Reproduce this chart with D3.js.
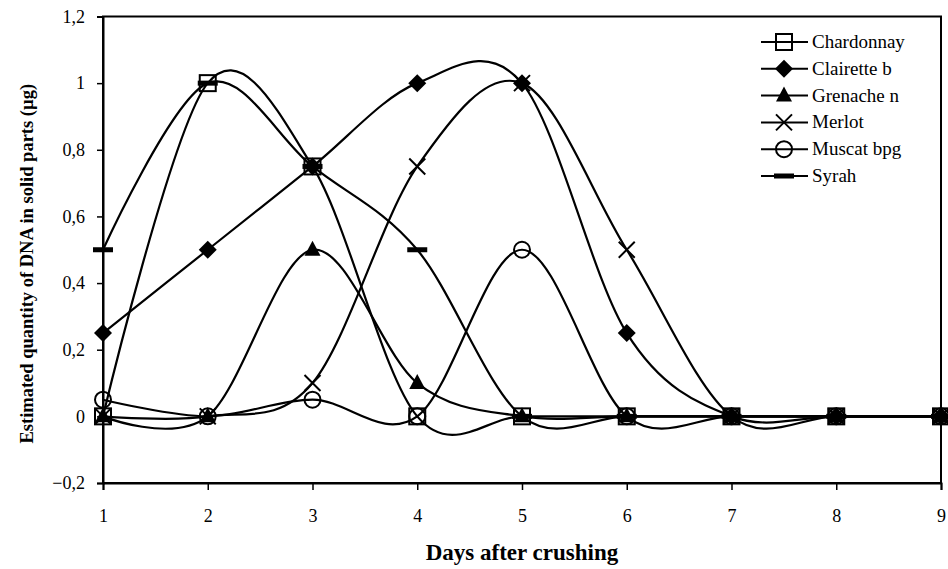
<!DOCTYPE html>
<html>
<head>
<meta charset="utf-8">
<script src="https://cdn.jsdelivr.net/npm/d3@7/dist/d3.min.js"></script>
<style>
  body { margin: 0; background: #fff; }
  svg { display: block; }
  text { font-family: "Liberation Serif", "Times New Roman", "DejaVu Serif", serif; fill: #000; }
</style>
</head>
<body>
<svg id="chart" width="948" height="569"></svg>
<script>
// days after crushing
const days = [1, 2, 3, 4, 5, 6, 7, 8, 9];
const yTicks = [-0.2, 0, 0.2, 0.4, 0.6, 0.8, 1, 1.2];

const chardonnay = [0, 1, 0.75, 0, 0, 0, 0, 0, 0];
const clairette = [0.25, 0.5, 0.75, 1, 1, 0.25, 0, 0, 0];
const grenache = [0, 0, 0.5, 0.1, 0, 0, 0, 0, 0];
const merlot = [0, 0, 0.1, 0.75, 1, 0.5, 0, 0, 0];
const muscat = [0.05, 0, 0.05, 0, 0.5, 0, 0, 0, 0];
const syrah = [0.5, 1, 0.75, 0.5, 0, 0, 0, 0, 0];

const seriesNames = ['Chardonnay', 'Clairette b', 'Grenache n', 'Merlot', 'Muscat bpg', 'Syrah'];
const seriesValues = [chardonnay, clairette, grenache, merlot, muscat, syrah];
const markerTypes = ['square', 'diamond', 'triangle', 'cross', 'circle', 'dash'];

const svg = d3.select('#chart');
const m = { left: 103, right: 941, top: 16.5, bottom: 483 };

const x = d3.scaleLinear().domain([1, 9]).range([m.left, m.right]);
const y = d3.scaleLinear().domain([-0.2, 1.2]).range([m.bottom, m.top]);

const fmt = d => (Math.abs(d) < 1e-9 ? '0' : d3.format('.1f')(d).replace('.0', '').replace('.', ','));

// frame
svg.append('rect')
  .attr('x', m.left).attr('y', m.top)
  .attr('width', m.right - m.left).attr('height', m.bottom - m.top)
  .attr('fill', 'none').attr('stroke', '#000').attr('stroke-width', 2);

const xAxis = svg.append('g').attr('transform', `translate(0,${m.bottom})`)
  .call(d3.axisBottom(x).tickValues(days).tickSize(7).tickFormat(d3.format('d')));
const yAxis = svg.append('g').attr('transform', `translate(${m.left},0)`)
  .call(d3.axisLeft(y).tickValues(yTicks).tickSize(6).tickPadding(12).tickFormat(fmt));

[xAxis, yAxis].forEach(g => {
  g.attr('font-family', null);
  g.select('.domain').attr('stroke-width', 2);
  g.selectAll('.tick line').attr('stroke-width', 1.5);
  g.selectAll('text').attr('font-size', 18);
});
xAxis.selectAll('text').attr('dy', null).attr('y', 39);

// axis titles
svg.append('text')
  .attr('x', (m.left + m.right) / 2).attr('y', 560)
  .attr('text-anchor', 'middle').attr('font-weight', 'bold').attr('font-size', 23)
  .text('Days after crushing');
svg.append('text')
  .attr('transform', `translate(33,${(m.top + m.bottom) / 2 + 14}) rotate(-90)`)
  .attr('text-anchor', 'middle').attr('font-weight', 'bold').attr('font-size', 18.5)
  .text('Estimated quantity of DNA in solid parts (µg)');

const line = d3.line()
  .x((d, i) => x(days[i]))
  .y(d => y(d))
  .curve(d3.curveCatmullRom.alpha(0));

const drawMarker = (g, type, cx, cy) => {
  if (type === 'square') {
    g.append('rect').attr('x', cx - 8).attr('y', cy - 8).attr('width', 16).attr('height', 16)
      .attr('fill', 'none').attr('stroke', '#000').attr('stroke-width', 2);
  } else if (type === 'diamond') {
    g.append('path').attr('d', `M${cx},${cy - 9}L${cx + 9},${cy}L${cx},${cy + 9}L${cx - 9},${cy}Z`)
      .attr('fill', '#000');
  } else if (type === 'triangle') {
    g.append('path').attr('d', `M${cx},${cy - 9}L${cx + 8},${cy + 6}L${cx - 8},${cy + 6}Z`)
      .attr('fill', '#000');
  } else if (type === 'cross') {
    g.append('path').attr('d', `M${cx - 8},${cy - 8}L${cx + 8},${cy + 8}M${cx - 8},${cy + 8}L${cx + 8},${cy - 8}`)
      .attr('stroke', '#000').attr('stroke-width', 2);
  } else if (type === 'circle') {
    g.append('circle').attr('cx', cx).attr('cy', cy).attr('r', 8)
      .attr('fill', 'none').attr('stroke', '#000').attr('stroke-width', 2);
  } else if (type === 'dash') {
    g.append('rect').attr('x', cx - 10).attr('y', cy - 2.5).attr('width', 20).attr('height', 5)
      .attr('fill', '#000');
  }
};

const plot = svg.append('g');
seriesValues.forEach(vals => {
  plot.append('path').attr('d', line(vals))
    .attr('fill', 'none').attr('stroke', '#000').attr('stroke-width', 2.2);
});
seriesValues.forEach((vals, s) => {
  const g = plot.append('g');
  vals.forEach((v, i) => drawMarker(g, markerTypes[s], x(days[i]), y(v)));
});

// legend
const legend = svg.append('g');
seriesNames.forEach((name, i) => {
  const ly = 42 + i * 26.8;
  legend.append('line').attr('x1', 761).attr('x2', 808).attr('y1', ly).attr('y2', ly)
    .attr('stroke', '#000').attr('stroke-width', 2);
  drawMarker(legend, markerTypes[i], 784, ly);
  legend.append('text').attr('x', 812).attr('y', ly + 6)
    .attr('font-size', 19).text(name);
});
</script>
</body>
</html>
